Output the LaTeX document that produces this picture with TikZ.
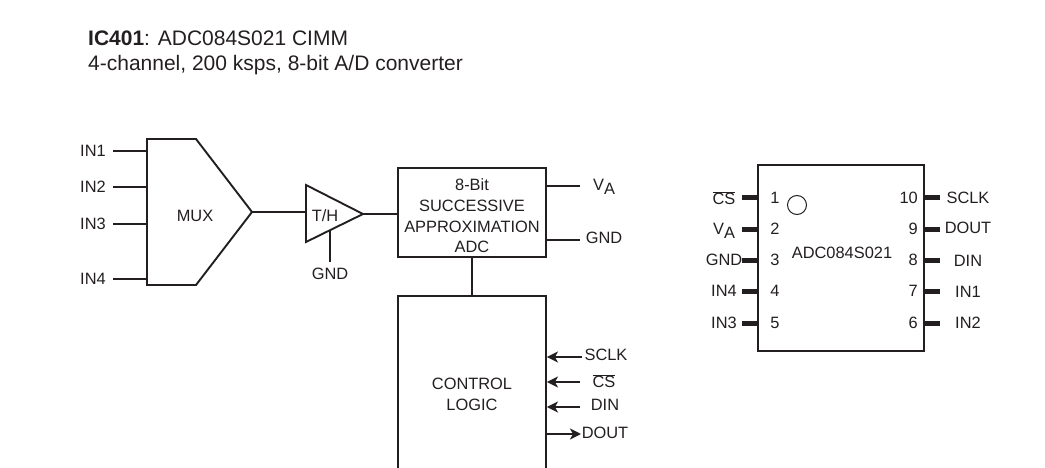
\documentclass[tikz,border=0pt]{standalone}
\usepackage{fontspec}
\setmainfont{Liberation Sans}
\usetikzlibrary{arrows.meta}
\newcommand{\supplyVA}{V\raisebox{-4pt}{A}}
\newcommand{\chipCS}{$\overline{\mbox{CS}}$}
\tikzset{
    lbl/.style={inner sep=0pt, align=center},
    titleLbl/.style={lbl, anchor=base west, font=\fontsize{21}{25}\selectfont},
    blockLine/.style={line width=1.9pt},
    pinLine/.style={line width=5pt},
    block/.style={draw=borderColour, blockLine, rectangle, inner sep=0pt, align=center},
    sigArrow/.style={blockLine, {Stealth[length=11pt,width=11pt,inset=3pt]}-},
    sigArrowOut/.style={blockLine, -{Stealth[length=11pt,width=11pt,inset=3pt]}},
}
\begin{document}
\begin{tikzpicture}[x=1pt, y=-1pt, font=\fontsize{16.4}{20.7}\selectfont, text=borderColour]
    \definecolor{borderColour}{HTML}{231F20}
    \useasboundingbox (0,0) rectangle (1045,468);

    % Title
    \node[titleLbl] (title) at (88,46) {\textbf{IC401}: ADC084S021 CIMM};
    \node[titleLbl] (subtitle) at (88,71) {4-channel, 200 ksps, 8-bit A/D converter};

    % MUX
    \coordinate (muxTip) at (252,212);
    \filldraw[fill=white, draw=borderColour, blockLine] (147,139) -- (196,139) -- (muxTip) -- (196,285) -- (147,285) -- cycle;
    \node[lbl] (mux) at (195,216) {MUX};
    \foreach \n/\y in {1/151, 2/187, 3/224, 4/279} {
        \coordinate (muxIn\n) at (147,\y);
        \coordinate (inEnd\n) at (113,\y);
        \node[lbl] (inLabel\n) at (93,\y) {IN\n};
        \draw[blockLine, draw=borderColour] (inEnd\n) -- (muxIn\n);
    }

    % T/H amplifier
    \coordinate (thTip) at (363,214);
    \coordinate (thIn) at (306,212);
    \coordinate (thBase) at (330,230);
    \coordinate (thGnd) at (330,262);
    \filldraw[fill=white, draw=borderColour, blockLine] (306,185) -- (thTip) -- (306,242) -- cycle;
    \node[lbl] (th) at (325,216) {T/H};
    \node[lbl] (gndTh) at (330,274) {GND};
    \draw[blockLine, draw=borderColour] (muxTip) -- (thIn);
    \draw[blockLine, draw=borderColour] (thBase) -- (thGnd);

    % ADC and control logic
    \node[block, minimum width=148pt, minimum height=89pt] (adc) at (472,212.5) {};
    \node[lbl] (adcText) at (472,216) {8-Bit\\SUCCESSIVE\\APPROXIMATION\\ADC};
    \node[block, minimum width=148pt, minimum height=197pt] (logic) at (472,394.5) {CONTROL\\LOGIC};
    \draw[blockLine, draw=borderColour] (thTip) -- (adc.west |- thTip);
    \draw[blockLine, draw=borderColour] (adc.south) -- (logic.north);

    % ADC supply pins
    \coordinate (vaEnd) at (580,186);
    \coordinate (gndEnd) at (580,240);
    \node[lbl] (vaLabel) at (604,187) {\supplyVA};
    \node[lbl] (gndLabel) at (604,238) {GND};
    \draw[blockLine, draw=borderColour] (adc.east |- vaEnd) -- (vaEnd);
    \draw[blockLine, draw=borderColour] (adc.east |- gndEnd) -- (gndEnd);

    % Control logic signals
    \foreach \s/\y/\xEnd/\xLbl/\yLbl/\txt in {sclk/357/582/606/355/SCLK, cs/382/580/604/381/\chipCS, din/407/580/605/405/DIN} {
        \coordinate (\s End) at (\xEnd,\y);
        \node[lbl] (\s Label) at (\xLbl,\yLbl) {\txt};
        \draw[sigArrow, draw=borderColour] (logic.east |- \s End) -- (\s End);
    }
    \coordinate (doutEnd) at (581,434);
    \node[lbl] (doutLabel) at (605,433) {DOUT};
    \draw[sigArrowOut, draw=borderColour] (logic.east |- doutEnd) -- (doutEnd);

    % Package
    \node[block, minimum width=166pt, minimum height=186pt] (chip) at (841,258) {};
    \node[draw=borderColour, circle, line width=1pt, minimum size=19pt, inner sep=0pt] (dot) at (797,205) {};
    \node[lbl] (chipName) at (842,253) {ADC084S021};

    % Left pins
    \foreach \n/\y/\yLbl/\txt in {1/198/198/\chipCS, 2/229/231/\supplyVA, 3/260/260/GND, 4/291/291/IN4, 5/323/323/IN3} {
        \coordinate (pinEnd\n) at (742,\y);
        \node[lbl] (pinNum\n) at (775,\y) {\n};
        \node[lbl] (pinLabel\n) at (724,\yLbl) {\txt};
        \draw[pinLine, draw=borderColour] (pinEnd\n) -- (chip.west |- pinEnd\n);
    }

    % Right pins
    \foreach \n/\y/\yLbl/\txt in {10/198/198/SCLK, 9/229/228/DOUT, 8/260/261/DIN, 7/291/292/IN1, 6/323/323/IN2} {
        \coordinate (pinEnd\n) at (940,\y);
        \node[lbl, anchor=east] (pinNum\n) at (918,\y) {\n};
        \node[lbl] (pinLabel\n) at (968,\yLbl) {\txt};
        \draw[pinLine, draw=borderColour] (chip.east |- pinEnd\n) -- (pinEnd\n);
    }

\end{tikzpicture}
\end{document}
